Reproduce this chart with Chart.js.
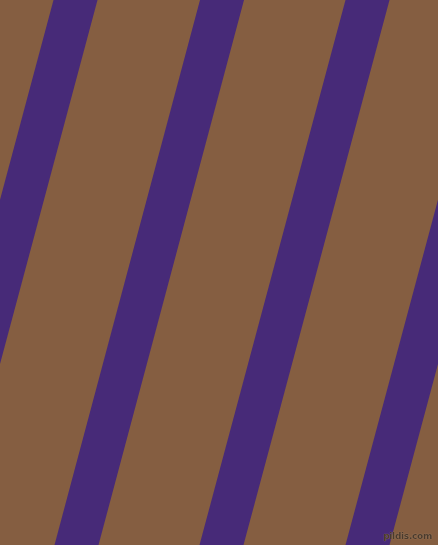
<!DOCTYPE html>
<html>
<head>
<meta charset="utf-8">
<script src="https://cdn.jsdelivr.net/npm/chart.js@4.4.0/dist/chart.umd.min.js"></script>
<style>
  html, body { margin: 0; padding: 0; background: #855e41; overflow: hidden; }
  #wrap { position: relative; width: 438px; height: 545px; }
  #mark { position: absolute; right: 6px; bottom: 4px; font: bold 9px "DejaVu Sans", sans-serif;
          color: #4a3a2c; text-shadow: 0 0 1px #b89a7c; letter-spacing: -0.3px; }
</style>
</head>
<body>
<div id="wrap">
  <canvas id="c" width="438" height="545"></canvas>
  <div id="mark">pildis.com</div>
</div>
<script>
// stripe left edges where they cross the top (y = 0) and the bottom (y = 545)
const stripeTopX = [53.5, 200, 345.5, 491.5];
const stripeBottomX = [-92.5, 54.5, 199.5, 345.5];
const stripeWidth = 44;
const fieldW = 438, fieldH = 545;

const stripeColor = '#472a78';

const datasets = stripeTopX.map((tx, i) => {
  const bx = stripeBottomX[i];
  return {
    data: [
      {x: tx, y: 0}, {x: tx + stripeWidth, y: 0},
      {x: bx + stripeWidth, y: fieldH}, {x: bx, y: fieldH}, {x: tx, y: 0}
    ],
    showLine: true, fill: 'shape',
    backgroundColor: stripeColor, borderColor: stripeColor,
    borderWidth: 0, pointRadius: 0, tension: 0
  };
});

new Chart(document.getElementById('c'), {
  type: 'scatter',
  data: { datasets },
  options: {
    responsive: false, animation: false,
    layout: { padding: 0 },
    plugins: { legend: { display: false }, tooltip: { enabled: false } },
    scales: {
      x: { type: 'linear', min: 0, max: fieldW, display: false },
      y: { type: 'linear', min: 0, max: fieldH, reverse: true, display: false }
    }
  }
});
</script>
</body>
</html>
